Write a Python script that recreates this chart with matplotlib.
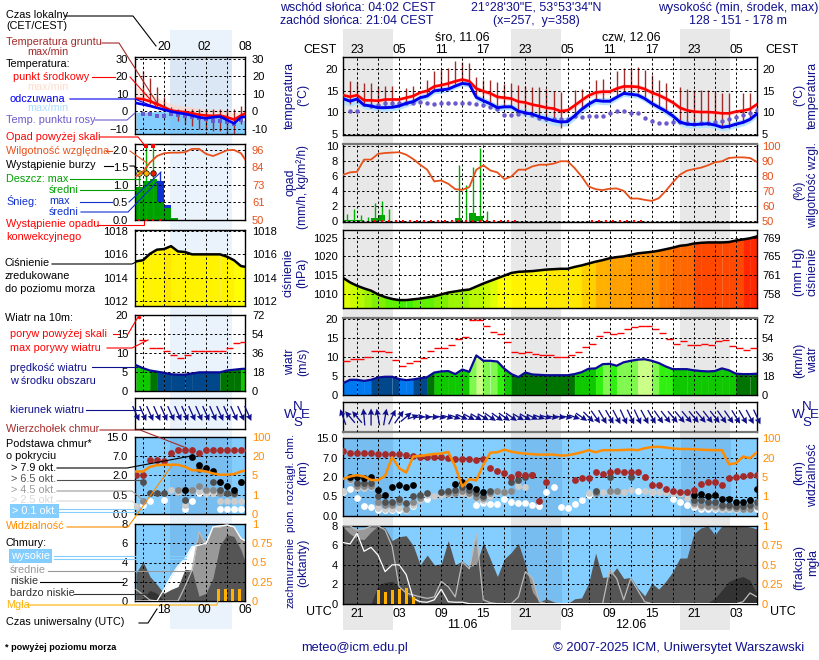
import numpy as np
import matplotlib
matplotlib.use("Agg")
import matplotlib.pyplot as plt
from matplotlib.colors import LinearSegmentedColormap
from matplotlib.ticker import NullLocator

plt.rcParams["font.family"] = ["Liberation Sans", "DejaVu Sans"]

W, H = 820, 660
NAVY = "#10108c"
RED = "#ff0000"
BROWN = "#a52a2a"
PURPLE = "#6a5acd"
ORANGE = "#ff8c00"
RHC = "#e8501a"
GREEN = "#00a000"
SKY = "#84ceff"
SKY_NIGHT = "#78bdf0"

# ---- glowny meteogram, godziny 0..59 (19 UTC 10.06 = 0)
hours = np.arange(60)
temp_mid = [14.0, 13.6, 14.0, 12.8, 12.8, 12.7, 13.0, 13.0, 13.0, 13.4, 13.8, 14.6, 15.0, 16.0, 16.3, 16.7, 17.2, 17.6, 17.2, 15.5,
            14.9, 14.4, 13.6, 13.4, 13.2, 12.5, 12.3, 11.8, 11.5, 11.1, 10.9, 10.3, 10.5, 11.6, 12.8, 13.9, 14.6, 14.8, 14.8, 15.5,
            16.0, 16.0, 15.9, 15.4, 14.6, 14.0, 13.2, 12.3, 11.1, 10.5, 10.2, 10.1, 10.1, 10.0, 9.8, 9.8, 10.2, 10.4, 10.8, 11.9]
temp_feel = [13.2, 12.6, 13.1, 11.7, 11.5, 11.1, 11.1, 11.2, 11.5, 12.1, 12.5, 13.4, 13.8, 15.0, 15.2, 15.4, 16.1, 16.7, 16.5, 13.5,
             12.7, 12.0, 11.1, 11.3, 11.3, 10.3, 9.9, 9.6, 9.0, 8.6, 8.1, 7.8, 7.9, 9.2, 10.7, 11.9, 12.8, 12.6, 12.6, 13.5,
             14.4, 14.2, 14.0, 13.2, 12.1, 11.2, 10.3, 9.2, 7.8, 7.3, 7.2, 7.3, 7.4, 7.1, 6.6, 6.8, 7.3, 7.7, 8.4, 9.7]
mid_spread = [0.7, 0.7, 0.7, 0.6, 0.6, 0.5, 0.5, 0.4, 0.4, 0.4, 0.4, 0.5, 0.5, 0.5, 0.5, 0.5, 0.5, 0.5, 0.5, 0.6,
              0.6, 0.6, 0.5, 0.5, 0.5, 0.5, 0.5, 0.5, 0.5, 0.5, 0.5, 0.6, 0.6, 0.6, 0.6, 0.6, 0.6, 0.6, 0.6, 0.6,
              0.6, 0.6, 0.6, 0.6, 0.6, 0.6, 0.6, 0.6, 0.5, 0.5, 0.5, 0.4, 0.4, 0.4, 0.4, 0.4, 0.5, 0.5, 0.5, 0.5]
feel_spread = [1.2, 1.2, 1.1, 0.9, 0.8, 0.8, 0.8, 0.8, 0.8, 0.8, 0.7, 0.7, 0.7, 0.7, 0.7, 0.6, 0.6, 0.6, 0.7, 0.8,
               0.8, 0.8, 0.8, 0.7, 0.7, 0.8, 0.8, 0.8, 0.9, 1.0, 1.0, 1.0, 1.0, 0.9, 0.9, 0.8, 0.8, 0.8, 0.8, 0.7,
               0.7, 0.7, 0.7, 0.7, 0.7, 0.7, 0.8, 0.8, 0.8, 0.8, 0.8, 0.8, 0.8, 0.8, 0.8, 0.8, 0.8, 0.8, 0.8, 0.8]
ground_h = [1, 2, 3, 4, 5, 6, 7, 9, 10, 12, 13, 14, 15, 16, 17, 18, 19, 20, 21, 22, 23, 24, 25, 26, 27, 28, 29, 30, 31,
            33, 34, 36, 37, 39, 40, 41, 42, 43, 44, 45, 46, 48, 49, 50, 51, 52, 53, 54, 55, 57, 58]
ground_max = [17.2, 17.1, 16.7, 16.7, 16.2, 16.2, 16.1, 15.7, 16.1, 17.5, 19.6, 20.0, 20.2, 21.8, 21.7, 21.5, 18.1, 17.5, 17.5, 17.0,
              16.5, 16.7, 16.4, 16.1, 15.9, 15.8, 15.5, 15.0, 14.8, 15.2, 15.5, 17.5, 17.8, 19.6, 20.3, 20.2, 20.5, 19.8, 18.6, 17.5,
              16.9, 15.8, 15.5, 15.2, 15.2, 15.2, 14.8, 14.4, 14.4, 14.4, 14.4]
ground_min = [12.0, 12.2, 11.6, 11.4, 11.0, 11.0, 11.2, 12.0, 12.5, 14.0, 15.5, 15.5, 15.8, 16.5, 17.0, 17.0, 14.0, 13.0, 12.5, 11.5,
              11.5, 11.4, 10.5, 10.0, 9.7, 9.2, 8.5, 8.0, 6.5, 9.0, 11.0, 13.0, 13.0, 14.0, 14.5, 14.5, 14.5, 13.5, 12.5, 11.5,
              10.5, 8.0, 7.5, 7.0, 7.0, 7.0, 7.0, 6.5, 6.5, 7.5, 8.5]
dew = [np.nan, 10.3, 10.3, np.nan, 11.5, 11.8, 12.1, 12.2, 12.1, 12.2, 12.3, 12.5, 12.2, 12.0, 12.3, 12.3, 12.1, 12.1, 12.2, 11.9,
       11.7, 11.2, 10.7, 9.5, 9.4, 9.7, 9.8, 9.4, 8.8, 8.5, 8.5, 8.5, 8.6, 9.1, 9.0, 9.2, 9.2, 9.3, 9.8, 10.3,
       10.3, 9.9, 9.8, 8.8, 8.1, 7.6, 7.6, 7.7, 7.7, 7.5, 7.3, 7.5, 7.6, 7.8, 8.1, 8.4, 9.0, 9.5, 9.9, 10.5]

rain_bar_h = [0, 1, 2, 4, 5, 16, 17, 18, 19]
rain_bar = [0.2, 0.2, 0.2, 0.4, 0.85, 0.45, 0.05, 1.15, 0.75]
rain_max_h = [0.5, 1.5, 2.5, 3.5, 4.5, 5.5, 6.5, 7.5, 16.5, 17.5, 18.5, 19.5, 20.5]
rain_max = [1.0, 1.7, 0.9, 0.6, 2.4, 2.7, 1.6, 0.2, 7.5, 4.8, 7.2, 9.8, 1.4]
conv_h = [4.5, 5.5, 6.5, 7.5, 8.5, 9.5, 10.5, 11.5, 12.5, 13.5, 14.5, 15.5, 16.5, 17.5, 18.5, 19.5, 20.5, 21.5, 22.5, 23.5, 24.5,
          35.5, 36.5, 37.5, 38.5, 39.5, 40.5, 41.5, 42.5]
humidity = [81, 82.6, 83, 91.1, 91.1, 94.9, 95.5, 95.8, 96, 94.4, 91.5, 87.7, 84.4, 76.6, 77.2, 75, 71.4, 71, 72.8, 84.4,
            87.3, 83.9, 82.6, 78.1, 79.9, 84.4, 84.4, 86.6, 87.7, 87.7, 88.4, 90, 90, 85.5, 79.9, 73.2, 71.4, 70.8, 71.7, 71.9,
            70.3, 65.2, 65.2, 64.3, 63.6, 65.4, 70.3, 75.9, 81, 83.7, 84.8, 85.7, 87.3, 89.3, 90, 92.2, 92.6, 92.6, 92.2, 89.5]

pressure = [1014.3, 1013.1, 1012.2, 1011.5, 1010.9, 1009.9, 1009.2, 1008.7, 1008.4, 1008.4, 1008.6, 1008.8, 1009.1, 1009.4, 1009.9,
            1010.4, 1010.7, 1011.0, 1011.2, 1012.0, 1012.8, 1013.5, 1014.2, 1014.9, 1015.6, 1015.9, 1016.0, 1016.1, 1016.3, 1016.5,
            1016.6, 1016.7, 1016.7, 1017.2, 1017.6, 1018.1, 1018.6, 1019.0, 1019.5, 1019.8, 1020.0, 1020.4, 1020.8, 1021.0, 1021.2,
            1021.5, 1021.9, 1022.3, 1022.8, 1023.0, 1023.4, 1023.6, 1023.7, 1023.7, 1023.7, 1023.8, 1024.2, 1024.5, 1024.8, 1025.3]

wind = [3.1, 4.0, 4.0, 3.7, 4.0, 4.6, 4.8, 4.8, 4.2, 3.9, 4.1, 4.4, 4.7, 5.9, 6.2, 6.3, 5.5, 6.7, 6.1, 10.4,
        9.0, 9.0, 8.8, 6.9, 5.5, 4.7, 5.9, 5.4, 5.3, 5.2, 5.2, 5.2, 5.2, 5.5, 6.0, 6.9, 7.0, 8.1, 8.2, 7.7,
        8.6, 9.0, 9.3, 9.4, 9.0, 8.4, 7.5, 6.8, 6.8, 6.8, 6.5, 6.3, 6.2, 6.3, 7.0, 6.5, 5.6, 5.5, 5.5, 5.6]
gust = [9.0, 9.4, 9.4, 10.1, 11.5, 11.7, 11.3, 9.2, 7.6, 8.4, 9.0, 9.7, 11.5, 12.3, 12.3, 13.1, 14.7, 15.2, 19.7, 19.7,
        18.1, 16.6, 16.0, 13.9, 11.3, 11.0, 11.3, 10.7, 10.5, 10.5, 10.1, 10.0, 10.5, 11.3, 12.6, 13.4, 15.5, 16.6, 16.0, 16.3,
        17.4, 17.9, 18.2, 18.2, 17.4, 16.3, 14.7, 13.4, 14.2, 13.1, 13.1, 13.4, 13.1, 14.2, 14.4, 12.9, 12.3, 11.8, 12.3]
wind_to = [110, 130, 130, 95, 90, 100, 80, 65, 55, 40, 20, 5, 0, -5, -10, -15, -20, -25, -28, -30,
           -30, -35, -35, -35, -35, -30, -30, -25, -20, -15, -10, -10, -10, -20, -35, -45, -55, -60, -60, -62,
           -65, -65, -65, -62, -60, -55, -52, -50, -50, -50, -50, -50, -52, -52, -55, -55, -58, -60, -62, -65]

# podstawa i wierzcholek chmur (km)
top_h = [0, 1, 2, 3, 4, 5, 6, 7, 8, 9, 10, 11, 12, 13, 14, 15, 16, 17, 18, 19, 20, 21, 22, 23, 24, 25, 26, 27, 28, 29,
         33, 34, 35, 36, 37, 38, 39, 40, 41, 42, 43, 44, 45, 46, 47, 48, 49, 50, 51, 52, 53, 54, 55, 56, 57, 58, 59]
top_km = [9.7, 8.9, 8.9, 8.7, 8.8, 8.6, 8.6, 8.6, 8.4, 8.1, 7.6, 7.2, 7.2, 7.2, 7.2, 7.0, 6.6, 6.6, 6.6, 6.3, 6.5, 4.4, 3.6, 3.0,
          2.0, 2.7, 2.5, 2.5, 0.38, 1.65, 1.76, 1.9, 1.92, 3.2, 2.7, 3.4, 3.6, 3.4, 3.4, 3.4, 2.1, 1.35, 1.35, 1.07, 0.92, 0.81,
          0.86, 1.02, 1.5, 1.65, 1.65, 1.37, 1.92, 2.1, 2.3, 2.5, 2.4]
base8_h = [1, 2, 3, 4, 5, 6, 7, 8, 9, 10, 16, 17, 18, 19, 20, 50, 51, 52, 53, 54, 55, 56, 57, 58, 59]
base8_km = [2.0, 2.0, 1.95, 2.1, 1.0, 0.63, 1.2, 1.35, 1.2, 1.4, 1.46, 1.65, 1.3, 1.05, 0.86, 0.63, 0.68, 0.52, 0.6, 0.44, 0.43, 0.36, 0.36, 0.4, 1.07]
base6_h = [2, 3, 4, 5, 6, 7, 8, 9, 10, 11, 12, 14, 15, 16, 17, 18, 19, 20, 21, 24, 25, 26, 27, 36, 38, 41, 50, 51, 52, 53, 54, 55, 56, 57, 58, 59]
base6_km = [1.55, 1.53, 1.55, 0.53, 0.37, 0.37, 0.43, 0.34, 0.55, 0.63, 0.8, 0.83, 0.93, 1.02, 1.2, 1.02, 0.76, 0.55, 0.93, 1.65, 1.8, 2.1, 2.4,
            0.93, 2.1, 2.1, 0.42, 0.4, 0.37, 0.35, 0.29, 0.29, 0.26, 0.25, 0.28, 0.37]
base4_h = [1, 2, 3, 4, 5, 6, 7, 8, 9, 10, 11, 15, 16, 17, 18, 19, 20, 21, 22, 23, 24, 36, 38, 39, 43, 50, 51, 52, 53, 54, 55, 56, 57, 58, 59]
base4_km = [1.85, 1.3, 1.27, 1.3, 0.37, 0.29, 0.29, 0.35, 0.18, 0.37, 0.46, 0.76, 0.76, 0.9, 0.76, 0.5, 0.46, 0.76, 0.9, 0.83, 0.93,
            0.76, 0.9, 0.9, 2.1, 0.33, 0.29, 0.26, 0.25, 0.23, 0.23, 0.2, 0.18, 0.18, 0.26]
base2_h = [0, 1, 2, 3, 4, 5, 6, 7, 8, 9, 10, 11, 12, 13, 14, 15, 16, 17, 18, 19, 20, 21, 22, 23, 25, 26,
           35, 37, 38, 39, 40, 41, 43, 44, 45, 46, 47, 48, 49, 50, 51, 52, 53, 54, 55, 56, 57, 58, 59]
base2_km = [0.9, 1.78, 1.15, 1.15, 1.25, 0.2, 0.18, 0.18, 0.2, 0.16, 0.29, 0.4, 0.63, 0.55, 0.63, 0.7, 0.76, 0.76, 0.63, 0.46, 0.42, 0.55, 0.83, 0.83, 1.27, 1.2,
            0.76, 0.83, 0.88, 0.88, 0.83, 0.97, 0.93, 0.83, 0.83, 0.83, 0.76, 0.68, 0.46, 0.27, 0.23, 0.22, 0.2, 0.18, 0.18, 0.17, 0.17, 0.17, 0.23]
base0_h = [0, 1, 2, 3, 4, 5, 6, 7, 8, 9, 10, 12, 19, 20, 21, 22, 23, 24, 25, 26, 27, 28, 29, 30, 31, 32, 33, 34, 35, 42, 44, 47, 48, 49,
           50, 51, 52, 53, 54, 55, 56, 57, 58, 59]
base0_km = [0.86, 1.07, 0.46, 0.25, 0.24, 0.16, 0.16, 0.16, 0.16, 0.16, 0.26, 0.44, 0.29, 0.33, 0.31, 0.31, 0.43, 0.37, 0.33, 0.33, 0.27, 0.25, 0.86, 1.2,
            0.23, 0.2, 0.32, 0.4, 0.63, 0.9, 0.83, 0.44, 0.35, 0.29, 0.24, 0.19, 0.19, 0.18, 0.17, 0.17, 0.17, 0.17, 0.17, 0.17]
visibility = [4.6, 5.4, 6.4, 5.4, 4.4, 4.35, 5.9, 21, 11.8, 8.4, 23.8, 26.4, 30.6, 34.6, 36, 42.8, 13, 3.06, 4.56, 4.3,
              14.3, 40, 41.4, 52.3, 44, 38.7, 36, 33.3, 32, 32, 32, 27.8, 29, 34.6, 41.4, 50, 41.4, 50, 50, 50,
              51, 52.3, 50, 58, 63, 64, 61, 57, 55, 55, 54, 52, 51, 50, 50, 14.8, 15.6, 23.8, 19.4, 41.4]

# zachmurzenie (oktanty)
cloud_high = [6.3, 6.15, 7.25, 5.4, 5.8, 5.0, 3.3, 4.0, 4.0, 3.0, 0.55, 0.2, 0.15, 0.4, 1.5, 0.2, 0.15, 0.15, 0, 0,
              0, 0, 0, 0, 0, 0, 0, 0, 0, 0, 0, 0, 0, 0, 0, 0, 0, 0, 0, 0,
              0, 0, 0, 0, 0, 0, 0, 0, 0, 0, 0, 0, 0, 0, 0, 0, 0, 0, 0, 0]
cloud_mid = [8, 8, 7.6, 7.7, 8, 8, 7.6, 5.9, 1.75, 1.1, 0.9, 0.7, 0.55, 0.7, 2.3, 1.75, 0.7, 4.3, 3.6, 7.2,
             0.4, 0.1, 0, 0, 0, 0.7, 3.3, 2.6, 0.2, 0, 0, 0, 0, 0, 0, 0, 0, 0, 3.5, 2.6,
             0.4, 2.6, 1.4, 0.2, 0, 0, 0, 0, 0, 0, 0, 0, 0, 0, 0, 0, 0, 0.2, 1.1, 0.7]
cloud_low = [7.9, 7.2, 6.7, 6.6, 7.4, 8, 7.8, 6.5, 6.9, 7, 6, 4, 5, 4, 4.1, 6.5, 4, 4.4, 3.8, 4,
             6.3, 4.6, 2.8, 4.6, 5.3, 6.2, 4, 1.2, 0.2, 0.5, 0.2, 0, 0, 0.5, 0.6, 2.1, 5.2, 2.7, 2.8, 3.7,
             2.6, 2.7, 1.6, 0.8, 2.1, 1.5, 2.3, 3.3, 4.7, 4.7, 7.2, 7.8, 8, 7.1, 8, 8, 8, 8, 7.9, 7.7]
cloud_vlow = [0, 0, 0, 0, 0, 1.9, 2.2, 2.3, 1.75, 1, 0.4, 0, 0, 0, 0, 0, 0, 0, 0, 0,
              0, 0, 0, 0, 0, 0, 0, 0, 0, 0, 0, 0, 0, 0, 0, 0, 0, 0, 0, 0,
              0, 0, 0, 0, 0, 0, 0, 0, 0, 0, 0, 0, 0.1, 0.55, 1.4, 2.3, 2.6, 2.8, 2.4, 1]
fog_h = [5, 6, 7, 8, 9, 10]
fog = [0.18, 0.155, 0.18, 0.185, 0.2, 0.08]

# ---- legenda po lewej, godziny 0..16 (14 UTC = 0)
leg_hours = np.arange(17)
leg_mid = [7.3, 7, 5.8, 4.3, 2.5, 0.6, 0, -0.4, -1, -1.9, -2.3, -2.5, -2.3, -3.3, -4.6, -2.3, -0.4]
leg_feel = [4.8, 4, 3.1, 2.1, 1, 0, -0.8, -1.4, -2.3, -3.3, -3.9, -3.3, -2.9, -4.8, -6.8, -3.3, -2.9]
leg_mid_max = [13.7, 12.5, 10, 8, 6, 4.5, 3.5, 3, 2.5, 2, 1.5, 1.2, 1, 0.5, -1, 0.5, 2]
leg_feel_max = [-0.4, -0.4, -0.4, 0, 0, -0.5, -0.8, -1.4, -2.3, -3.3, -3.9, -3.3, -2.9, -4.8, -6.8, -5, -5]
leg_dew_h = [1, 2, 3, 4, 5, 6, 7, 8, 9, 10, 11, 12, 13, 14, 15]
leg_dew = [-1.4, -1.4, -2.3, -2.7, -1.7, -1.9, -2.3, -2.9, -3.9, -4.3, -5.6, -5.2, -5.8, -7.2, -4.8]
leg_ground_h = [1, 2, 3, 4, 5, 6, 7, 8, 9, 10, 11, 12, 13, 14, 15]
leg_ground_max = [22.8, 19, 13.7, 8.3, 2.5, 1.5, 1.5, 1.5, 1.5, 1.5, 1.5, 1.5, 1.5, 1.5, 2.9]
leg_ground_min = [6.4, 4.4, 2.9, 1, -1.4, -5.6, -7.2, -8, -10, -10.6, -11, -11.4, -13, -12.6, -7.2]
leg_rain_h = [0, 1, 2, 3, 4, 5]
leg_rain = [0.93, 1.1, 1.16, 0.52, 0.33, 0.07]
leg_snow = [0, 0, 0, 1.1, 0.43, 0]
leg_rain_max_h = [0.5, 1.5, 2.5]
leg_rain_max = [1.33, 2.08, 2.08]
leg_rh = [78.5, 81.8, 87.7, 92, 93.8, 94.2, 94.2, 94.5, 96.7, 96.7, 93.4, 92, 93.8, 95.8, 96, 93.8, 86.8]
leg_pressure = [1015.4, 1015.5, 1016.05, 1016.4, 1016.45, 1016.7, 1016.25, 1016.2, 1016, 1016, 1016, 1016, 1016, 1015.8, 1015.5, 1015, 1014.9]
leg_wind = [6.8, 6, 5.4, 5.1, 4.8, 4.4, 4.3, 4.3, 4.6, 4.9, 4.9, 4.9, 4.9, 5.4, 5.6, 5.8, 5.9]
leg_gust_h = [0.5, 1.8, 2.8, 3.8, 4.8, 5.8, 6.8, 7.8, 8.8, 9.8, 10.8, 11.8, 12.8, 13.8, 14.8]
leg_gust = [13.4, 11.4, 11.4, 10.4, 9.5, 8.6, 9.6, 10.4, 10.6, 10.6, 10.4, 10.4, 11.4, 12.6, 12.8]
leg_wind_to = [-66, -66, -66, -66, -66, -66, -66, -66, -66, -66, -66, -66, -66, -66, -66, -66, -66]
leg_top_km = [2, 2, 6, 6, 5.7, 8.4, 9.3, 9.3, 9.3, 8.4, 9.3, 9.3, 9.3, 9.3, 9.3, 9.3, 9.3]
leg_b8_h = [7, 8, 9, 10, 11, 12, 13, 14, 15]
leg_b8 = [0.88, 6.7, 4.6, 3.8, 3.2, 1.5, 1.2, 0.88, 1.5]
leg_b6_h = [1, 2, 3, 4, 7, 9, 11, 12, 13, 14]
leg_b6 = [1.5, 0.65, 0.65, 0.65, 0.36, 3.7, 1.45, 0.88, 0.65, 0.65]
leg_b4_h = [1, 6, 7, 8, 9, 10, 11, 12, 13, 14, 15]
leg_b4 = [0.34, 0.88, 0.88, 0.88, 1.15, 0.88, 0.88, 0.65, 0.6, 0.55, 1.45]
leg_b2_h = [0, 5, 6, 7, 9, 10, 11, 12, 13, 14, 15]
leg_b2 = [0.2, 0.88, 0.7, 0.23, 0.75, 0.65, 0.65, 0.34, 0.34, 0.34, 0.34]
leg_b0_h = [1, 2, 4, 7, 8, 9, 10, 11, 12, 13, 14, 15]
leg_b0 = [0.23, 0.34, 0.37, 0.12, 0.34, 0.65, 0.65, 0.65, 0.12, 0.12, 0.12, 0.12]
leg_vis = [8, 8, 11.6, 12.9, 13.2, 13.2, 13.2, 11.6, 9, 8.8, 8, 6.5, 5.5, 5.5, 6, 8, 9]
leg_high = [0, 0, 0, 0, 1.2, 2.55, 3.65, 4.4, 5.65, 5.8, 6, 7.7, 7.8, 7.9, 7.7, 6.5, 6.1]
leg_medium = [1.2, 0.65, 0.1, 0, 0, 0, 0, 1.5, 3.2, 7.2, 5.8, 7.7, 7.7, 7.9, 7.7, 6.5, 6.1]
leg_low = [2.9, 4.1, 2.55, 1.7, 0.8, 1.2, 1.5, 3.3, 3.2, 0.5, 0.8, 2.4, 5.8, 6.9, 6.7, 5.3, 3.2]
leg_vlow = [0, 0.3, 1.1, 0.8, 0, 0, 0, 0, 0, 0, 0, 0, 0, 0, 0, 0, 0]
leg_fog_h = [11.75, 12.75, 13.75, 14.75]
leg_fog = [0.15, 0.15, 0.15, 0.15]

km_ticks = [0, 0.5, 2, 7, 15]
km_labels = ["0.0", "0.5", "2.0", "7.0", "15.0"]
vis_ticks = [0, 1, 5, 20, 100]
vis_labels = ["0", "1", "5", "20", "100"]
pos_ticks = [0, 1, 2, 3, 4]

press_cmap = LinearSegmentedColormap.from_list("press", [
    (0.0, "#40f000"), (2 / 17, "#80f000"), (4 / 17, "#b8f800"), (6 / 17, "#e0ff00"), (7 / 17, "#ffff00"),
    (9 / 17, "#ffe800"), (10 / 17, "#ffd000"), (11 / 17, "#ffb000"), (13 / 17, "#ff9000"), (15 / 17, "#ff6800"),
    (1.0, "#ff2800")])

fig = plt.figure(figsize=(W / 100, H / 100), dpi=100, facecolor="white")

# warstwa tla z pasami nocy
bg = fig.add_axes([0, 0, 1, 1], zorder=-1)
bg.set_xlim(0, W)
bg.set_ylim(H, 0)
bg.axis("off")
for x0, x1 in [(343, 393), (511, 561), (680, 730)]:
    bg.axvspan(x0, x1, ymin=1 - 630 / H, ymax=1 - 29 / H, color="#e8e8e8", lw=0)
bg.axvspan(170, 232, ymin=1 - 629 / H, ymax=1 - 30 / H, color="#eaf2fc", lw=0)

# warstwa opisow
top = fig.add_axes([0, 0, 1, 1], zorder=10)
top.set_xlim(0, W)
top.set_ylim(H, 0)
top.axis("off")
top.patch.set_visible(False)


def txt(x, y, s, c="black", size=7.8, ha="left", **kw):
    top.text(x, y, s, color=c, fontsize=size, ha=ha, va="center", **kw)


def lead(pts, c="black", lw=0.8):
    top.plot([p[0] for p in pts], [p[1] for p in pts], color=c, lw=lw, solid_joinstyle="miter")


def panel(x0, y0, x1, y1, xlim, xt, ylim, yt, ylab=None, size=8, pad=3.6):
    ax = fig.add_axes([x0 / W, 1 - y1 / H, (x1 - x0) / W, (y1 - y0) / H])
    ax.patch.set_visible(False)
    ax.set_xlim(*xlim)
    ax.set_ylim(*ylim)
    ax.set_xticks(xt)
    ax.set_xticklabels([])
    ax.set_yticks(yt)
    if ylab is not None:
        ax.set_yticklabels(ylab)
    ax.tick_params(length=0, labelsize=size, pad=pad)
    ax.grid(True, color="black", lw=0.7, ls=(0, (2.4, 2.4)))
    ax.set_axisbelow(False)
    for s in ax.spines.values():
        s.set_linewidth(1)
    return ax


def right_labels(ax, ylim, yt, ylab, c="black", size=8, pad=3.6):
    tw = ax.twinx()
    tw.patch.set_visible(False)
    tw.set_ylim(*ylim)
    tw.set_yticks(yt)
    tw.set_yticklabels(ylab)
    tw.tick_params(length=0, labelsize=size, pad=pad, labelcolor=c)
    tw.grid(False)
    for s in tw.spines.values():
        s.set_visible(False)
    return tw


def wind_color(v):
    if v < 4.2:
        return "#0078f0"
    if v < 4.95:
        return "#00478c"
    if v < 5.7:
        return "#007400"
    if v < 7:
        return "#10c800"
    if v < 8:
        return "#30f010"
    if v < 9.2:
        return "#80f850"
    return "#ccff88"


def fill_segments(ax, x, y, color_fn):
    # kazdy odcinek ma swoj kolor zalezny od wartosci
    for i in range(len(x) - 1):
        avg = (y[i] + y[i + 1]) / 2
        c = color_fn(avg)
        ax.fill_between([x[i], x[i + 1]], [y[i], y[i + 1]], ax.get_ylim()[0], facecolor=c, edgecolor=c, lw=0.3, zorder=1)


def press_color(v):
    return press_cmap((round(v) - 1008) / 17)


def arrows(ax, x, angle, y0):
    a = np.radians(angle)
    length = 9 + 8 * np.abs(np.sin(a))
    ax.quiver(x, np.full(len(x), y0), length * np.cos(a), length * np.sin(a), angles="uv", scale_units="dots", scale=1,
              units="dots", width=1.3, headwidth=5, headlength=5, headaxislength=4.5, pivot="mid", color=NAVY,
              clip_on=False, zorder=3)


def base_dots(ax, sets):
    for x, y, c in sets:
        ax.scatter(x, y, s=24, color=c, lw=0, zorder=3)


def cat_axis(ax, ticks, labels, top_value):
    # os nieliniowa: rowne odstepy miedzy opisanymi wartosciami
    ax.set_yscale("function", functions=(lambda v: np.interp(v, ticks, pos_ticks), lambda p: np.interp(p, pos_ticks, ticks)))
    ax.yaxis.set_minor_locator(NullLocator())
    ax.set_ylim(0, top_value)
    ax.set_yticks(ticks)
    ax.set_yticklabels(labels)


def cloud_fill(ax, x, high, medium, low, vlow):
    ax.fill_between(x, high, 0, color="white", lw=0, zorder=1)
    ax.fill_between(x, medium, 0, color="#999999", lw=0, zorder=1.1)
    ax.fill_between(x, low, 0, color="#555555", lw=0, zorder=1.2)
    ax.fill_between(x, vlow, 0, color="#333333", lw=0, zorder=1.3)
    ax.plot(x, medium, color="#bbbbbb", lw=0.9, zorder=3)
    ax.plot(x, high, color="white", lw=0.9, zorder=3)


# ---------- panele glowne
M_XLIM = (0, 59)
M_XT = np.arange(2, 59, 3)
top_lab = ["23", "", "05", "", "11", "", "17", "", "23", "", "05", "", "11", "", "17", "", "23", "", "05"]
bot_lab = ["21", "", "03", "", "09", "", "15", "", "21", "", "03", "", "09", "", "15", "", "21", "", "03"]

ax = panel(343, 57, 757, 135, M_XLIM, M_XT, (4.8, 22.8), [5, 10, 15, 20])
ax.set_xticklabels(top_lab)
ax.tick_params(axis="x", top=False, bottom=False, labeltop=True, labelbottom=False, labelsize=8.8, pad=0.5)
ax.fill_between(hours, np.array(temp_mid) - mid_spread, np.array(temp_mid) + mid_spread, color="#ffd6d6", lw=0, zorder=1)
ax.fill_between(hours, np.array(temp_feel) - feel_spread, np.array(temp_feel) + feel_spread, color="#b4e2ff", lw=0, zorder=1.1)
ax.vlines(ground_h, ground_min, ground_max, color=BROWN, lw=1, zorder=2)
ax.plot(hours, dew, ls="none", marker="o", ms=3.2, mew=0, color=PURPLE, zorder=3)
ax.plot(hours, temp_mid, color=RED, lw=1.9, zorder=3)
ax.plot(hours, temp_feel, color="#0000f0", lw=2.1, zorder=3)
right_labels(ax, (4.8, 22.8), [5, 10, 15, 20], ["5", "10", "15", "20"])

ax = panel(343, 144, 757, 221.7, M_XLIM, M_XT, (-0.05, 10.3), [0, 2, 4, 6, 8, 10])
ax.spines["top"].set_color("#777777")
ax.spines["top"].set_linewidth(1.6)
ax.bar(rain_bar_h, rain_bar, width=1, align="edge", color=GREEN, lw=0, zorder=1)
ax.vlines(rain_max_h, 0, rain_max, color="#00b000", lw=1, zorder=1.5)
ax.plot(conv_h, np.zeros(len(conv_h)), ls="none", marker="s", ms=2, mew=0, color=RED, zorder=3, clip_on=False)
tw = right_labels(ax, (49.75, 101.5), [50, 60, 70, 80, 90, 100], ["50", "60", "70", "80", "90", "100"], c=RHC)
tw.plot(hours, humidity, color=RHC, lw=1.3)

ax = panel(343, 230, 757, 308, M_XLIM, M_XT, (1006.3, 1027), [1010, 1015, 1020, 1025])
fill_segments(ax, hours, pressure, press_color)
ax.plot(hours, pressure, color="black", lw=1.8, zorder=3)
right_labels(ax, (1006.3, 1027), [1010, 1015, 1020, 1025], ["758", "761", "765", "769"])

ax = panel(343, 318, 757, 395, M_XLIM, M_XT, (0, 20.25), [0, 5, 10, 15, 20])
ax.spines["top"].set_color("#777777")
ax.spines["top"].set_linewidth(1.6)
fill_segments(ax, hours, wind, wind_color)
ax.plot(hours, wind, color="#0a0a96", lw=1.6, zorder=3)
ax.hlines(gust, hours[:-1], hours[1:], color=RED, lw=1, zorder=3)
right_labels(ax, (0, 20.25), [0, 5, 10, 15, 20], ["0", "18", "36", "54", "72"])

ax = panel(343, 402, 757, 432, M_XLIM, M_XT, (0, 1), [])
ax.spines["bottom"].set_color("#777777")
ax.spines["bottom"].set_linewidth(1.6)
arrows(ax, hours, wind_to, 0.5)

ax = panel(343, 438, 757, 516, M_XLIM, M_XT, (0, 15), km_ticks, km_labels)
cat_axis(ax, km_ticks, km_labels, 15)
ax.patch.set_visible(True)
ax.patch.set_facecolor(SKY)
for x0, x1 in [(0, 7.15), (24, 31.15), (48.1, 55.3)]:
    ax.axvspan(x0, x1, color=SKY_NIGHT, lw=0, zorder=0.5)
base_dots(ax, [(base0_h, base0_km, "white"), (base2_h, base2_km, "#cccccc"), (base4_h, base4_km, "#888888"),
               (base6_h, base6_km, "#505050"), (base8_h, base8_km, "black"), (top_h, top_km, BROWN)])
tw = right_labels(ax, (0, 100), vis_ticks, vis_labels, c=ORANGE)
cat_axis(tw, vis_ticks, vis_labels, 100)
tw.plot(hours, visibility, color=ORANGE, lw=1.8)

ax = panel(343, 526, 757, 603.7, M_XLIM, M_XT, (0, 8), [0, 2, 4, 6, 8])
ax.patch.set_visible(True)
ax.patch.set_facecolor(SKY)
for x0, x1 in [(0, 7.15), (24, 31.15), (48.1, 55.3)]:
    ax.axvspan(x0, x1, color=SKY_NIGHT, lw=0, zorder=0.5)
cloud_fill(ax, hours, cloud_high, cloud_mid, cloud_low, cloud_vlow)
ax.set_xticklabels(bot_lab)
ax.tick_params(axis="x", labelsize=8.8, pad=3)
tw = right_labels(ax, (0, 1), [0, 0.25, 0.5, 0.75, 1], ["0", "0.25", "0.5", "0.75", "1"], c=ORANGE)
tw.bar(fog_h, fog, width=0.45, color="#ffb000", lw=0, zorder=4)

# ---------- panele legendy
L_XLIM = (-0.14, 15.57)
L_XT = [1, 4, 7, 10, 13]

ax = panel(135, 57, 245, 134.3, L_XLIM, L_XT, (-13, 31), [-10, 0, 10, 20, 30], pad=5)
ax.fill_between(leg_hours, leg_feel, leg_mid_max, color="#ffe6dc", lw=0, zorder=1)
ax.fill_between(leg_hours, -13, leg_feel_max, color=SKY, lw=0, zorder=1.1)
ax.axvspan(4.86, 13.7, color="#2a5fa0", alpha=0.07, lw=0, zorder=1.2)
ax.vlines(leg_ground_h, leg_ground_min, leg_ground_max, color=BROWN, lw=1, zorder=2)
ax.plot(leg_dew_h, leg_dew, ls="none", marker="s", ms=2.6, mew=0, color=PURPLE, zorder=3)
ax.plot(leg_hours, leg_mid, color=RED, lw=1.9, zorder=3)
ax.plot(leg_hours, leg_feel, color="#0000f0", lw=1.9, zorder=3)
right_labels(ax, (-13, 31), [-10, 0, 10, 20, 30], ["-10", "0", "10", "20", "30"], pad=5)

ax = panel(135, 144, 245, 220, L_XLIM, L_XT, (0, 2.17), [0, 0.5, 1, 1.5, 2], ["0.0", "0.5", "1.0", "1.5", "2.0"], pad=5)
ax.bar(leg_rain_h, leg_snow, width=1, align="edge", color="#1030d0", lw=0, zorder=1)
ax.bar(leg_rain_h, leg_rain, width=1, align="edge", color=GREEN, lw=0, zorder=1.1)
ax.vlines(leg_rain_max_h, 0, leg_rain_max, color="#00b000", lw=1, zorder=1.5)
ax.vlines([3.5], 1.1, 1.38, color="#1030d0", lw=1, zorder=1.5)
ax.plot([1.5, 2.5], [2.1, 2.1], ls="none", marker="s", ms=2.8, mew=0, color=RED, zorder=4)
for k, c in zip([0.5, 1.5, 2.5], ["#ffff00", "#ffb000", "#e82000"]):
    ax.plot([k], [1.33], marker="o", ms=4, mew=0.5, mec="black", color=c, zorder=4)
ax.plot([0.5, 1.5, 2.5, 3.5], [0, 0, 0, 0], ls="none", marker="s", ms=2, mew=0, color=RED, zorder=4, clip_on=False)
tw = right_labels(ax, (50, 99.9), [50, 61.5, 73, 84.5, 96], ["50", "61", "73", "84", "96"], c=RHC, pad=5)
tw.plot(leg_hours, leg_rh, color=RHC, lw=1.3)

ax = panel(135, 229.7, 245, 306, L_XLIM, L_XT, (1011.6, 1018.1), [1012, 1014, 1016, 1018], pad=5)
fill_segments(ax, leg_hours, leg_pressure, press_color)
ax.plot(leg_hours, leg_pressure, color="black", lw=1.8, zorder=3)
right_labels(ax, (1011.6, 1018.1), [1012, 1014, 1016, 1018], ["1012", "1014", "1016", "1018"], pad=5)

ax = panel(135, 315, 245, 391, L_XLIM, L_XT, (0, 20), [0, 5, 10, 15, 20], pad=5)
fill_segments(ax, leg_hours, leg_wind, wind_color)
ax.plot(leg_hours, leg_wind, color="#0a0a96", lw=1.6, zorder=3)
ax.hlines(leg_gust, leg_gust_h, np.array(leg_gust_h) + 1, color=RED, lw=1, zorder=3)
ax.plot([0.5], [19.5], marker="o", ms=2.5, mew=0, color=RED, zorder=4)
right_labels(ax, (0, 20), [0, 5, 10, 15, 20], ["0", "18", "36", "54", "72"], pad=5)

ax = panel(135, 398, 245, 429, L_XLIM, L_XT, (0, 1), [])
arrows(ax, leg_hours, leg_wind_to, 0.5)

ax = panel(135, 436.7, 245, 514, L_XLIM, L_XT, (0, 15), km_ticks, km_labels, pad=5)
cat_axis(ax, km_ticks, km_labels, 15)
ax.patch.set_visible(True)
ax.patch.set_facecolor(SKY)
ax.axvspan(4.86, 13.7, color=SKY_NIGHT, lw=0, zorder=0.5)
base_dots(ax, [(leg_b0_h, leg_b0, "white"), (leg_b2_h, leg_b2, "#cccccc"), (leg_b4_h, leg_b4, "#888888"),
               (leg_b6_h, leg_b6, "#505050"), (leg_b8_h, leg_b8, "black"), (leg_hours, leg_top_km, BROWN)])
tw = right_labels(ax, (0, 100), vis_ticks, vis_labels, c=ORANGE, pad=5)
cat_axis(tw, vis_ticks, vis_labels, 100)
tw.plot(leg_hours, leg_vis, color=ORANGE, lw=1.8)

ax = panel(135, 524, 245, 601, L_XLIM, L_XT, (0, 8), [0, 2, 4, 6, 8], pad=5)
ax.patch.set_visible(True)
ax.patch.set_facecolor(SKY)
ax.axvspan(4.86, 13.7, color=SKY_NIGHT, lw=0, zorder=0.5)
cloud_fill(ax, leg_hours, leg_high, leg_medium, leg_low, leg_vlow)
tw = right_labels(ax, (0, 1), [0, 0.25, 0.5, 0.75, 1], ["0", "0.25", "0.5", "0.75", "1"], c=ORANGE, pad=5)
tw.bar(leg_fog_h, leg_fog, width=0.4, color="#ffb000", lw=0, zorder=4)

# ---------- naglowek
txt(280, 8, "wschód słońca: 04:02 CEST", NAVY, 8.9)
txt(280, 21, "zachód słońca: 21:04 CEST", NAVY, 8.9)
txt(536, 8, "21°28'30\"E, 53°53'34\"N", NAVY, 8.9, ha="center")
txt(536, 21, "(x=257,  y=358)", NAVY, 8.9, ha="center")
txt(818, 8, "wysokość (min, środek, max)", NAVY, 8.9, ha="right")
txt(738, 21, "128 - 151 - 178 m", NAVY, 8.9, ha="center")
txt(462, 37, "śro, 11.06", "black", 8.9, ha="center")
txt(631, 37, "czw, 12.06", "black", 8.9, ha="center")
txt(303, 50, "CEST", "black", 9)
txt(765, 50, "CEST", "black", 9)
txt(306, 612, "UTC", "black", 9)
txt(770, 612, "UTC", "black", 9)
txt(462, 625, "11.06", "black", 9, ha="center")
txt(631, 625, "12.06", "black", 9, ha="center")
txt(355, 648, "meteo@icm.edu.pl", NAVY, 9.2, ha="center")
txt(553, 648, "© 2007-2025 ICM, Uniwersytet Warszawski", NAVY, 9.4)

# opisy osi glownych paneli
for x, y, s, fs in [(290, 95, "temperatura", 8.9), (303, 95, "(°C)", 8.9), (799, 95, "(°C)", 8.9), (813, 95, "temperatura", 8.9),
                    (291, 182, "opad", 8.9), (303, 187, "(mm/h, kg/m²/h)", 8.6), (799, 190, "(%)", 8.9), (813, 185, "wilgotność wzgl.", 8.6),
                    (289, 273, "ciśnienie", 8.9), (302, 273, "(hPa)", 8.9), (799, 272, "(mm Hg)", 8.9), (813, 272, "ciśnienie", 8.9),
                    (290, 362, "wiatr", 8.9), (303, 362, "(m/s)", 8.9), (799, 360, "(km/h)", 8.9), (813, 360, "wiatr", 8.9),
                    (291, 483, "pion. rozciągł. chm.", 8.2), (303, 473, "(km)", 8.9), (799, 473, "(km)", 8.9), (813, 475, "widzialność", 8.9),
                    (291, 572, "zachmurzenie", 8.2), (303, 563, "(oktanty)", 8.9), (799, 567, "(frakcja)", 8.9), (813, 563, "mgła", 8.9)]:
    txt(x, y, s, NAVY, fs, ha="center", rotation=90)
for x, y, s in [(290, 415, "W"), (298, 407, "N"), (305, 415, "E"), (298, 423, "S"),
                (798, 415, "W"), (807, 407, "N"), (814, 415, "E"), (807, 423, "S")]:
    txt(x, y, s, NAVY, 9.6, ha="center")

# ---------- tekst legendy
txt(164, 47, "20", size=8.8, ha="center")
txt(204, 47, "02", size=8.8, ha="center")
txt(245, 47, "08", size=8.8, ha="center")
txt(164, 610, "18", size=8.8, ha="center")
txt(204, 610, "00", size=8.8, ha="center")
txt(245, 610, "06", size=8.8, ha="center")

legend_rows = [
    (6, 15, "Czas lokalny", "black"), (6, 26, "(CET/CEST)", "black"),
    (6, 42, "Temperatura gruntu", BROWN), (27, 52, "max/min", BROWN),
    (6, 64, "Temperatura:", "black"), (13, 77, "punkt środkowy", RED),
    (27, 87, "max/min", "#ffdccc"), (10, 99, "odczuwana", "#0000f0"),
    (27, 108, "max/min", "#aadfff"), (6, 120, "Temp. punktu rosy", PURPLE),
    (6, 137, "Opad powyżej skali", RED), (6, 151, "Wilgotność względna", RHC),
    (6, 165, "Wystąpienie burzy", "black"), (6, 179, "Deszcz: max", GREEN),
    (49, 190, "średni", GREEN), (6, 201, "Śnieg:", "#1030d0"), (49, 201, "max", "#1030d0"),
    (49, 212, "średni", "#1030d0"), (6, 224, "Wystąpienie opadu", RED), (6, 237, "konwekcyjnego", RED),
    (5, 263, "Ciśnienie", "black"), (5, 276, "zredukowane", "black"), (5, 289, "do poziomu morza", "black"),
    (5, 318, "Wiatr na 10m:", "black"), (10, 334, "poryw powyżej skali", RED), (10, 348, "max porywy wiatru", RED),
    (10, 368, "prędkość wiatru", NAVY), (10, 381, "w środku obszaru", NAVY), (10, 410, "kierunek wiatru", NAVY),
    (6, 429, "Wierzchołek chmur", BROWN), (6, 444, "Podstawa chmur*", "black"), (6, 456, "o pokryciu", "black"),
    (11, 468, "> 7.9 okt.", "black"), (11, 479, "> 6.5 okt.", "#505050"), (11, 490, "> 4.5 okt.", "#999999"),
    (11, 500, "> 2.5 okt.", "#d8d8d8"), (6, 526, "Widzialność", ORANGE), (6, 543, "Chmury:", "black"),
    (10, 570, "średnie", "#999999"), (10, 581, "niskie", "#333333"), (10, 593, "bardzo niskie", "#333333"),
    (6, 605, "Mgła", "#ffb000"), (6, 622, "Czas uniwersalny (UTC)", "black"),
]
for x, y, s, c in legend_rows:
    txt(x, y, s, c)
txt(12, 511, "> 0.1 okt.", "white", bbox=dict(fc=SKY, ec="none", pad=1.2))
txt(11, 556, "wysokie", "white", bbox=dict(fc=SKY, ec="none", pad=1.2))
txt(5, 648, "* powyżej poziomu morza", size=6.6, fontweight="bold")

lead([(65, 16), (133, 16), (156, 46)])
lead([(102, 43), (119, 43), (157, 103)], BROWN)
lead([(92, 77), (115, 77)], RED)
lead([(130, 77), (157, 107)], RED)
lead([(70, 99), (135, 99), (157, 108)], "#0000f0")
lead([(95, 120), (127, 120), (135, 113)], PURPLE)
lead([(100, 137), (138, 137), (146, 147)], RED)
lead([(106, 151), (112, 151)], RHC)
lead([(130, 151), (147, 163)], RHC)
lead([(104, 166), (113, 166)])
lead([(130, 166), (134, 166), (139, 172)])
lead([(70, 179), (140, 179)], GREEN)
lead([(80, 190), (145, 190)], GREEN)
lead([(80, 202), (112, 202)], "#1030d0")
lead([(129, 202), (161, 172)], "#1030d0")
lead([(81, 212), (128, 212), (158, 181)], "#1030d0")
lead([(97, 225), (144, 225), (144, 221)], RED)
lead([(52, 264), (132, 264), (136, 262)])
lead([(113, 334), (119, 334)], RED)
lead([(128, 334), (138, 317)], RED)
lead([(107, 348), (132, 348), (148, 340)], RED)
lead([(92, 367), (137, 367)], NAVY)
lead([(86, 410), (140, 410)], NAVY)
lead([(100, 430), (140, 430), (184, 447)], BROWN)
lead([(57, 468), (127, 468), (191, 456)])
lead([(57, 480), (143, 480)], "#505050")
lead([(57, 491), (132, 491), (143, 500)], "#999999")
lead([(57, 501), (132, 501), (138, 506)], "#d8d8d8")
lead([(57, 509), (135, 509)], SKY)
lead([(57, 512), (135, 512)], SKY)
lead([(67, 527), (128, 527), (173, 464)], ORANGE)
lead([(54, 556), (186, 556)], SKY)
lead([(54, 559), (186, 559)], SKY)
lead([(48, 571), (190, 571)], "#999999")
lead([(40, 582), (123, 582)])
lead([(134, 582), (136, 582)])
lead([(74, 594), (147, 594)], "#333333")
lead([(27, 605), (217, 605), (219, 594)], "#ffb000")
lead([(139, 623), (148, 623), (157, 609)])

fig.savefig("out.png", dpi=100)
